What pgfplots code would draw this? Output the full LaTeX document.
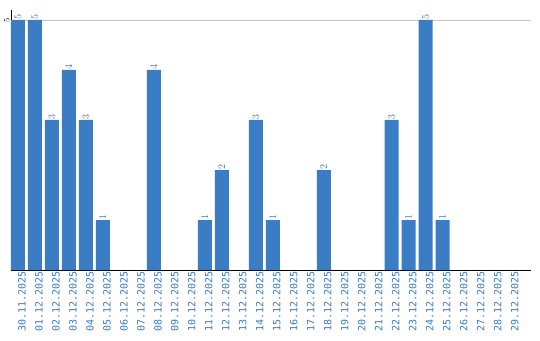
\documentclass[border=0pt]{standalone}
\usepackage{pgfplots}
\pgfplotsset{compat=1.18}
\usepackage{fontspec}
\setmainfont{DejaVu Sans}
\setmonofont{DejaVu Sans Mono}
\definecolor{barblue}{HTML}{3B7DC4}
\definecolor{lblblue}{HTML}{3A7BC0}
\begin{document}
\begin{tikzpicture}[x=1pt,y=1pt]
\path[use as bounding box] (-11,-70) rectangle (529,270);
\begin{axis}[
  at={(0,0)}, anchor=south west,
  scale only axis, width=520pt, height=260pt,
  xmin=-0.41, xmax=30.2, ymin=0, ymax=5.2,
  axis x line*=bottom, axis y line*=left,
  axis line style={black, line width=1pt},
  ytick={5}, ymajorgrids, grid style={gray!45, line width=0.8pt},
  yticklabel style={rotate=90, font=\ttfamily\fontsize{8.5}{8.5}\selectfont, text=black, anchor=south, inner sep=1.5pt},
  major tick length=0pt,
  xtick={0,...,29},
  xticklabels={30.11.2025,01.12.2025,02.12.2025,03.12.2025,04.12.2025,05.12.2025,06.12.2025,07.12.2025,08.12.2025,09.12.2025,10.12.2025,11.12.2025,12.12.2025,13.12.2025,14.12.2025,15.12.2025,16.12.2025,17.12.2025,18.12.2025,19.12.2025,20.12.2025,21.12.2025,22.12.2025,23.12.2025,24.12.2025,25.12.2025,26.12.2025,27.12.2025,28.12.2025,29.12.2025},
  xticklabel style={rotate=90, anchor=east, font=\ttfamily\fontsize{10}{10}\selectfont, text=lblblue, yshift=-4pt, inner sep=1pt},
  ybar, bar width=14pt,
  nodes near coords, every node near coord/.append style={rotate=90, anchor=west, font=\ttfamily\fontsize{10}{10}\selectfont, text=lblblue, xshift=-1pt, inner sep=1pt},
  clip=false,
]
\addplot[fill=barblue, draw=none] coordinates {
(0,5) (1,5) (2,3) (3,4) (4,3) (5,1) (8,4) (11,1) (12,2) (14,3) (15,1) (18,2) (22,3) (23,1) (24,5) (25,1)
};
\end{axis}
\end{tikzpicture}
\end{document}
